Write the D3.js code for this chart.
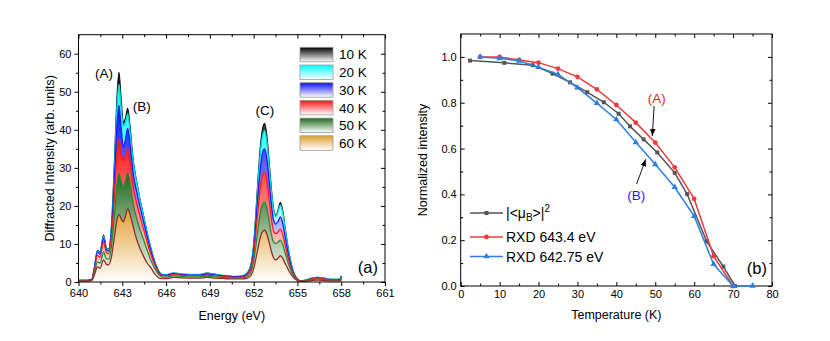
<!DOCTYPE html>
<html>
<head>
<meta charset="utf-8">
<script src="https://cdn.jsdelivr.net/npm/d3@7"></script>
<style>
  body { margin: 0; background: #fff; }
  svg { display: block; font-family: "Liberation Sans", Arial, sans-serif; }
</style>
</head>
<body>
<script>
// ---- panel (a): RXD spectra at several temperatures ----
const energy = [640.0, 640.6, 640.9, 641.1, 641.3, 641.47, 641.72, 641.9, 642.05, 642.25,
  642.45, 642.62, 642.77, 642.92, 643.07, 643.22, 643.37, 643.55, 643.75, 644.0,
  644.2, 644.45, 644.7, 644.95, 645.25, 645.5, 645.75, 646.0, 646.5, 647.0,
  647.6, 648.2, 648.8, 649.4, 650.0, 650.6, 651.2, 651.6, 651.85, 652.05,
  652.25, 652.45, 652.6, 652.75, 652.9, 653.05, 653.2, 653.35, 653.52, 653.68,
  653.83, 654.0, 654.2, 654.45, 654.7, 654.95, 655.2, 655.6, 656.0, 656.4,
  656.8, 657.3, 657.8, 657.97, 658.0]

const temps = ["10 K", "20 K", "30 K", "40 K", "50 K", "60 K"]

const int10K = [0.4, 0.4, 0.6, 4.0, 8.3, 7.8, 12.3, 9.0, 8.6, 14,
  30, 47, 55.1, 48, 42, 43, 45.7, 40, 32, 26,
  22, 17.5, 13, 9, 5, 2.8, 1.8, 1.8, 2.3, 2.1,
  1.9, 1.9, 2.3, 2.0, 1.6, 1.4, 1.5, 2.5, 5, 12,
  24, 35, 40, 41.7, 38.5, 32, 25, 19.5, 17.5, 19,
  20.9, 18.5, 13, 7, 3, 1.0, 0.3, 0.5, 1.0, 1.2,
  1.0, 0.7, 0.7, 0.8, 1.6]
const int20K = [0.4, 0.4, 0.6, 3.9, 8.1, 7.6, 12.0, 8.8, 8.4, 13.5,
  28.5, 44.5, 52, 46, 41, 42, 44.2, 39, 31.5, 25.7,
  21.8, 17.3, 12.9, 8.9, 5, 2.8, 1.9, 1.9, 2.4, 2.2,
  2.0, 2.0, 2.3, 2.0, 1.7, 1.5, 1.6, 2.5, 5, 11.5,
  23, 33.5, 38.2, 39.8, 37, 31, 24.3, 19.2, 17.2, 18.6,
  20.2, 18, 12.8, 6.9, 3, 1.0, 0.3, 0.5, 1.0, 1.2,
  1.0, 0.7, 0.7, 0.8, 1.5]
const int30K = [0.4, 0.4, 0.6, 3.8, 7.9, 7.3, 11.5, 8.5, 8.1, 12.8,
  26, 40, 46.4, 40.5, 35.5, 37.5, 40.4, 35.5, 28.5, 23.5,
  20, 16, 12, 8.3, 4.7, 2.6, 1.8, 1.8, 2.2, 2.0,
  1.8, 1.8, 2.1, 1.8, 1.6, 1.4, 1.5, 2.3, 4.5, 10.5,
  20.5, 29.5, 33.8, 35, 32.5, 27, 21, 16.5, 15.2, 16,
  17.1, 15.3, 11, 6, 2.6, 0.9, 0.3, 0.4, 0.9, 1.1,
  0.9, 0.6, 0.6, 0.7, 1.4]
const int40K = [0.35, 0.35, 0.55, 3.3, 7.0, 6.5, 10.5, 7.8, 7.4, 11.5,
  22, 33, 37.6, 34, 32, 33, 35, 31, 25, 20.5,
  17.5, 14, 10.5, 7.3, 4.2, 2.3, 1.6, 1.6, 1.9, 1.8,
  1.6, 1.6, 1.8, 1.6, 1.4, 1.2, 1.3, 2.0, 3.8, 8.8,
  17, 24.5, 28, 28.9, 26.8, 22.2, 17.2, 13.6, 12.7, 13.2,
  13.9, 12.4, 9, 5, 2.2, 0.8, 0.25, 0.35, 0.8, 0.95,
  0.8, 0.55, 0.55, 0.6, 1.2]
const int50K = [0.3, 0.3, 0.45, 2.6, 5.3, 5.0, 7.9, 6.2, 6.0, 9.2,
  17, 25, 28.5, 26.5, 25, 26.5, 28.7, 25.5, 20.5, 16.5,
  14, 11.2, 8.4, 5.8, 3.4, 1.9, 1.3, 1.3, 1.6, 1.5,
  1.35, 1.35, 1.55, 1.35, 1.2, 1.05, 1.1, 1.6, 3, 6.6,
  12.5, 18, 20.3, 21, 19.5, 16.3, 12.8, 10.6, 10.1, 10.5,
  11, 9.8, 7.1, 4, 1.8, 0.7, 0.2, 0.3, 0.65, 0.8,
  0.65, 0.45, 0.45, 0.5, 1.0]
const int60K = [0.25, 0.25, 0.4, 2.0, 4.0, 3.6, 5.8, 4.7, 4.5, 6.5,
  11.5, 16, 17.8, 16.6, 15.8, 17.3, 19.3, 17.5, 14.5, 11,
  9, 6.8, 5, 3.8, 2.0, 1.1, 0.9, 0.9, 1.2, 1.1,
  1.0, 1.0, 1.2, 1.0, 0.9, 0.8, 0.8, 1.1, 2.0, 4.3,
  8.0, 11.6, 13.2, 13.6, 12.6, 10.6, 8.3, 6.5, 5.8, 6.3,
  6.9, 6.2, 4.6, 2.7, 1.3, 0.5, 0.15, 0.2, 0.4, 0.5,
  0.4, 0.3, 0.3, 0.35, 0.7]
const spectra = [int10K, int20K, int30K, int40K, int50K, int60K]

const energyTicks = [640, 643, 646, 649, 652, 655, 658, 661]
const intensityTicks = [0, 10, 20, 30, 40, 50, 60]

// ---- panel (b): normalized intensity vs temperature ----
const tempMu = [2.4, 11.2, 18.5, 23.6, 28.1, 32.5, 36.8, 40.6, 43.5, 47, 50.5, 55, 58.2, 63.2, 67.5, 70.5]
const normMu = [0.984, 0.974, 0.964, 0.927, 0.889, 0.846, 0.802, 0.752, 0.697, 0.64, 0.583, 0.494, 0.401, 0.195, 0.085, 0]
const tempA = [5, 10, 15, 20, 25, 30, 35, 40, 45, 50, 55, 60, 65, 70]
const normA = [1.0, 1.0, 0.987, 0.975, 0.949, 0.913, 0.858, 0.79, 0.713, 0.626, 0.518, 0.38, 0.13, 0]
const tempB = [5, 10, 15, 20, 25, 30, 35, 40, 45, 50, 55, 60, 65, 70, 75]
const normB = [1.0, 0.994, 0.983, 0.955, 0.924, 0.866, 0.798, 0.727, 0.627, 0.531, 0.431, 0.305, 0.095, 0, 0]
const tempTicks = [0, 10, 20, 30, 40, 50, 60, 70, 80]
const normTicks = [0, 0.2, 0.4, 0.6, 0.8, 1.0]

// colours
const lineCol = ["#111111", "#00dada", "#1a1aff", "#ff1a1a", "#2a8a2a", "#962828"]
const fillCol = ["#000000", "#00ffff", "#1010ff", "#ff1010", "#1e6a1e", "#e0a030"]

const W = 830, H = 341
const svg = d3.select("body").append("svg").attr("width", W).attr("height", H)
const defs = svg.append("defs")

const tickFont = 11

function styleAxis(g) {
  g.select(".domain").remove()
  g.selectAll("line").attr("stroke", "#000")
  g.selectAll("text").attr("font-size", tickFont).attr("fill", "#000")
    .attr("font-family", "Liberation Sans, Arial, sans-serif")
}

// ================= panel (a) =================
const xE = d3.scaleLinear().domain([640, 661]).range([78.5, 385])
const yI = d3.scaleLinear().domain([0, 65]).range([282, 34.7])

const pa = svg.append("g")

// gradients (colour at top of each spectrum fading to white at zero)
spectra.forEach((s, i) => {
  const gr = defs.append("linearGradient").attr("id", "fill" + i)
    .attr("gradientUnits", "userSpaceOnUse")
    .attr("x1", 0).attr("x2", 0)
    .attr("y1", yI(d3.max(s))).attr("y2", yI(0))
  gr.append("stop").attr("offset", 0).attr("stop-color", fillCol[i])
  gr.append("stop").attr("offset", 1).attr("stop-color", "#ffffff")
  const lg = defs.append("linearGradient").attr("id", "leg" + i)
    .attr("x1", 0).attr("x2", 0).attr("y1", 0).attr("y2", 1)
  lg.append("stop").attr("offset", 0).attr("stop-color", fillCol[i])
  lg.append("stop").attr("offset", 1).attr("stop-color", "#ffffff")
})

const area = d3.area()
  .x((d, i) => xE(energy[i]))
  .y0(yI(0))
  .y1(d => yI(d))
  .curve(d3.curveMonotoneX)
const line = d3.line()
  .x((d, i) => xE(energy[i]))
  .y(d => yI(d))
  .curve(d3.curveMonotoneX)

spectra.forEach((s, i) => {
  pa.append("path").datum(s).attr("d", area).attr("fill", "url(#fill" + i + ")")
  pa.append("path").datum(s).attr("d", line)
    .attr("fill", "none").attr("stroke", lineCol[i]).attr("stroke-width", 1.3)
})

// axes
const eMinor = d3.range(641.5, 661, 3)
const iMinor = d3.range(5, 65, 10)
pa.append("g").attr("transform", `translate(0,${yI(0)})`)
  .call(d3.axisBottom(xE).tickValues(energyTicks).tickSize(4).tickPadding(3).tickFormat(d3.format("d"))).call(styleAxis)
pa.append("g").attr("transform", `translate(0,${yI(0)})`)
  .call(d3.axisBottom(xE).tickValues(eMinor).tickSize(2.5).tickFormat("")).call(styleAxis)
pa.append("g").attr("transform", `translate(0,${yI(65)})`)
  .call(d3.axisTop(xE).tickValues(energyTicks).tickSize(-4).tickFormat("")).call(styleAxis)
pa.append("g").attr("transform", `translate(0,${yI(65)})`)
  .call(d3.axisTop(xE).tickValues(eMinor).tickSize(-2.5).tickFormat("")).call(styleAxis)
pa.append("g").attr("transform", `translate(${xE(640)},0)`)
  .call(d3.axisLeft(yI).tickValues(intensityTicks).tickSize(4).tickPadding(3)).call(styleAxis)
pa.append("g").attr("transform", `translate(${xE(640)},0)`)
  .call(d3.axisLeft(yI).tickValues(iMinor).tickSize(2.5).tickFormat("")).call(styleAxis)
pa.append("g").attr("transform", `translate(${xE(661)},0)`)
  .call(d3.axisRight(yI).tickValues(intensityTicks).tickSize(-4).tickFormat("")).call(styleAxis)
pa.append("g").attr("transform", `translate(${xE(661)},0)`)
  .call(d3.axisRight(yI).tickValues(iMinor).tickSize(-2.5).tickFormat("")).call(styleAxis)
pa.append("rect").attr("x", xE(640)).attr("y", yI(65))
  .attr("width", xE(661) - xE(640)).attr("height", yI(0) - yI(65))
  .attr("fill", "none").attr("stroke", "#000").attr("stroke-width", 1)

pa.append("text").attr("x", (xE(640) + xE(661)) / 2).attr("y", 320)
  .attr("text-anchor", "middle").attr("font-size", 12.5).text("Energy (eV)")
pa.append("text").attr("transform", `translate(54,${(yI(0) + yI(65)) / 2}) rotate(-90)`)
  .attr("text-anchor", "middle").attr("font-size", 12.5).text("Diffracted Intensity (arb. units)")

// peak labels
const peakLabels = [["(A)", 641.75, 54.8], ["(B)", 644.33, 46.2], ["(C)", 652.77, 45.1]]
peakLabels.forEach(p => {
  pa.append("text").attr("x", xE(p[1])).attr("y", yI(p[2])).attr("dy", "0.36em")
    .attr("text-anchor", "middle").attr("font-size", 13.5).text(p[0])
})
pa.append("text").attr("x", xE(659.83)).attr("y", yI(3.9)).attr("dy", "0.36em")
  .attr("text-anchor", "middle").attr("font-size", 16.5).text("(a)")

// legend
const legA = pa.append("g").attr("transform", "translate(300,47.3)")
temps.forEach((t, i) => {
  legA.append("rect").attr("x", 0).attr("y", i * 17.7).attr("width", 33).attr("height", 14.5)
    .attr("fill", "url(#leg" + i + ")").attr("stroke", "#999").attr("stroke-width", 0.8)
  legA.append("text").attr("x", 39).attr("y", i * 17.7 + 7.3).attr("dy", "0.36em")
    .attr("font-size", 13.5).text(t)
})

// ================= panel (b) =================
const xT = d3.scaleLinear().domain([0, 80]).range([460.7, 772])
const yN = d3.scaleLinear().domain([0, 1.1]).range([286, 34])
const pb = svg.append("g")

const tMinor = d3.range(5, 80, 10)
const nMinor = [0.1, 0.3, 0.5, 0.7, 0.9]
pb.append("g").attr("transform", `translate(0,${yN(0)})`)
  .call(d3.axisBottom(xT).tickValues(tempTicks).tickSize(-4).tickPadding(4)).call(styleAxis)
pb.append("g").attr("transform", `translate(0,${yN(0)})`)
  .call(d3.axisBottom(xT).tickValues(tMinor).tickSize(-2.5).tickFormat("")).call(styleAxis)
pb.append("g").attr("transform", `translate(0,${yN(1.1)})`)
  .call(d3.axisTop(xT).tickValues(tempTicks).tickSize(-4).tickFormat("")).call(styleAxis)
pb.append("g").attr("transform", `translate(0,${yN(1.1)})`)
  .call(d3.axisTop(xT).tickValues(tMinor).tickSize(-2.5).tickFormat("")).call(styleAxis)
pb.append("g").attr("transform", `translate(${xT(0)},0)`)
  .call(d3.axisLeft(yN).tickValues(normTicks).tickSize(-4).tickPadding(4).tickFormat(d3.format(".1f"))).call(styleAxis)
pb.append("g").attr("transform", `translate(${xT(0)},0)`)
  .call(d3.axisLeft(yN).tickValues(nMinor).tickSize(-2.5).tickFormat("")).call(styleAxis)
pb.append("g").attr("transform", `translate(${xT(80)},0)`)
  .call(d3.axisRight(yN).tickValues(normTicks).tickSize(-4).tickFormat("")).call(styleAxis)
pb.append("g").attr("transform", `translate(${xT(80)},0)`)
  .call(d3.axisRight(yN).tickValues(nMinor).tickSize(-2.5).tickFormat("")).call(styleAxis)
pb.append("rect").attr("x", xT(0)).attr("y", yN(1.1))
  .attr("width", xT(80) - xT(0)).attr("height", yN(0) - yN(1.1))
  .attr("fill", "none").attr("stroke", "#000").attr("stroke-width", 1)

pb.append("text").attr("x", (xT(0) + xT(80)) / 2).attr("y", 319)
  .attr("text-anchor", "middle").attr("font-size", 12.5).text("Temperature (K)")
pb.append("text").attr("transform", `translate(427,${(yN(0) + yN(1.1)) / 2}) rotate(-90)`)
  .attr("text-anchor", "middle").attr("font-size", 12.5).text("Normalized intensity")

const series = [
  { t: tempMu, v: normMu, col: "#555555", sym: d3.symbolSquare, size: 16 },
  { t: tempA, v: normA, col: "#f03a3a", sym: d3.symbolCircle, size: 18 },
  { t: tempB, v: normB, col: "#2f7fe0", sym: d3.symbolTriangle, size: 18 }
]
const lineT = d3.line().x(d => xT(d[0])).y(d => yN(d[1]))
series.forEach(s => {
  const pts = s.t.map((t, i) => [t, s.v[i]])
  pb.append("path").datum(pts).attr("d", lineT)
    .attr("fill", "none").attr("stroke", s.col).attr("stroke-width", 1.5)
  pb.selectAll(null).data(pts).enter().append("path")
    .attr("transform", d => `translate(${xT(d[0])},${yN(d[1])})`)
    .attr("d", d3.symbol().type(s.sym).size(s.size))
    .attr("fill", s.col)
})

// annotations with arrows
defs.append("marker").attr("id", "ah").attr("viewBox", "0 0 10 10")
  .attr("refX", 10).attr("refY", 5).attr("markerWidth", 7).attr("markerHeight", 7)
  .attr("markerUnits", "userSpaceOnUse").attr("orient", "auto")
  .append("path").attr("d", "M0,1 L10,5 L0,9 Z").attr("fill", "#000")

pb.append("text").attr("x", xT(50.4)).attr("y", yN(0.819)).attr("dy", "0.36em")
  .attr("text-anchor", "middle").attr("font-size", 13.5).attr("fill", "#ff1a1a").text("(A)")
pb.append("line").attr("x1", xT(49.7)).attr("y1", yN(0.786)).attr("x2", xT(49.25)).attr("y2", yN(0.655))
  .attr("stroke", "#000").attr("stroke-width", 0.9).attr("marker-end", "url(#ah)")
pb.append("text").attr("x", xT(45.1)).attr("y", yN(0.397)).attr("dy", "0.36em")
  .attr("text-anchor", "middle").attr("font-size", 13.5).attr("fill", "#1a1aff").text("(B)")
pb.append("line").attr("x1", xT(45.2)).attr("y1", yN(0.445)).attr("x2", xT(47.55)).attr("y2", yN(0.553))
  .attr("stroke", "#000").attr("stroke-width", 0.9).attr("marker-end", "url(#ah)")
pb.append("text").attr("x", xT(76.1)).attr("y", yN(0.079)).attr("dy", "0.36em")
  .attr("text-anchor", "middle").attr("font-size", 16.5).text("(b)")

// legend
const legB = pb.append("g").attr("transform", "translate(470,0)")
const legRows = [213, 237, 256.5]
series.forEach((s, i) => {
  legB.append("line").attr("x1", 0).attr("x2", 33).attr("y1", legRows[i]).attr("y2", legRows[i])
    .attr("stroke", s.col).attr("stroke-width", 1.5)
  legB.append("path").attr("transform", `translate(16.5,${legRows[i]})`)
    .attr("d", d3.symbol().type(s.sym).size(s.size)).attr("fill", s.col)
})
const t0 = legB.append("text").attr("x", 36).attr("y", legRows[0]).attr("dy", "0.36em").attr("font-size", 14)
t0.append("tspan").text("|<μ")
t0.append("tspan").attr("font-size", 10).attr("dy", "3").text("B")
t0.append("tspan").attr("dy", "-3").text(">|")
t0.append("tspan").attr("font-size", 10).attr("dy", "-6").text("2")
legB.append("text").attr("x", 36).attr("y", legRows[1]).attr("dy", "0.36em").attr("font-size", 14).text("RXD 643.4 eV")
legB.append("text").attr("x", 36).attr("y", legRows[2]).attr("dy", "0.36em").attr("font-size", 14).text("RXD 642.75 eV")
</script>
</body>
</html>
